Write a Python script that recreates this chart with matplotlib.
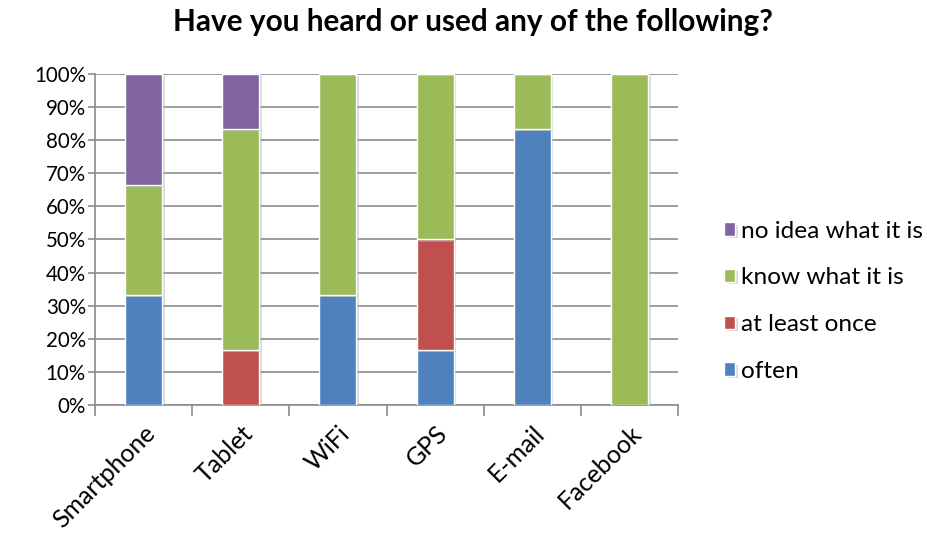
import matplotlib
matplotlib.use("Agg")
import matplotlib.pyplot as plt
import matplotlib.patheffects as pe
import numpy as np

categories = ["Smartphone", "Tablet", "WiFi", "GPS", "E-mail", "Facebook"]
often = [33.3, 0, 33.3, 16.7, 83.3, 0]
at_least_once = [0, 16.7, 0, 33.3, 0, 0]
know_what = [33.3, 66.7, 66.7, 50.0, 16.7, 100.0]
no_idea = [33.4, 16.6, 0, 0, 0, 0]

series = [
    ("often", often, "#4F81BD"),
    ("at least once", at_least_once, "#C0504D"),
    ("know what it is", know_what, "#9BBB59"),
    ("no idea what it is", no_idea, "#8064A2"),
]

plt.rcParams["font.family"] = ["Lato", "DejaVu Sans"]

fig = plt.figure(figsize=(9.28, 5.35), dpi=100)
ax = fig.add_axes([0.1024, 0.243, 0.6282, 0.6187])

x = np.arange(len(categories))
bottom = np.zeros(len(categories))
handles = []
for name, vals, color in series:
    vals = np.array(vals, dtype=float)
    bars = ax.bar(x, vals, width=0.38, bottom=bottom, color=color,
                  edgecolor="white", linewidth=1.0, zorder=3, label=name)
    for b in bars:
        b.set_path_effects([pe.SimplePatchShadow(offset=(2, -1.5), shadow_rgbFace="#b0b0b0", alpha=0.45),
                            pe.Normal()])
    handles.append(bars)
    bottom += vals

ax.set_xlim(-0.5, len(categories) - 0.5)
ax.set_ylim(0, 100)
ax.set_yticks(np.arange(0, 101, 10))
ax.set_yticklabels([f"{v}%" for v in range(0, 101, 10)], fontsize=14.8)
ax.yaxis.grid(True, color="#8c8c8c", linewidth=1.2, zorder=0)
ax.set_axisbelow(True)

ax.set_xticks(x)
ax.set_xticklabels(categories, rotation=45, ha="right", rotation_mode="anchor", fontsize=18)
ax.tick_params(axis="x", length=0, pad=12)
ax.set_xticks(np.arange(-0.5, len(categories), 1), minor=True)
ax.tick_params(axis="x", which="minor", length=8, color="#8c8c8c", width=1.2)
ax.tick_params(axis="y", length=5, color="#8c8c8c", width=1.2, pad=1.5)

for s in ["top", "right"]:
    ax.spines[s].set_visible(False)
for s in ["left", "bottom"]:
    ax.spines[s].set_color("#8c8c8c")
    ax.spines[s].set_linewidth(1.2)

fig.text(0.510, 0.959, "Have you heard or used any of the following?", fontsize=21.4,
         fontweight="bold", ha="center", va="center")

leg = fig.legend(handles=handles[::-1], labels=[s[0] for s in series][::-1],
                 loc="center left", bbox_to_anchor=(0.757, 0.437), frameon=False,
                 fontsize=17.6, handlelength=0.45, handleheight=0.45, handletextpad=0.22,
                 labelspacing=1.05)

fig.savefig("out.png", dpi=100)
